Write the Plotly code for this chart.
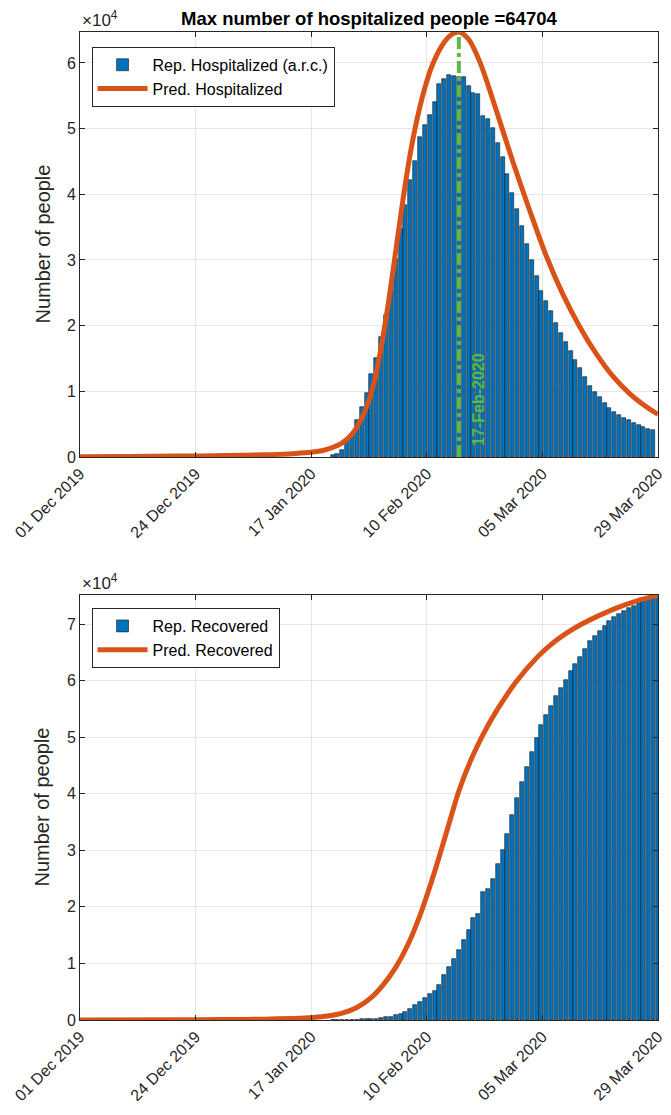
import plotly.graph_objects as go
import pandas as pd

# ---------------- data ----------------
axis_start = "2019-12-01"
axis_end = "2020-03-29"

hosp_dates = pd.date_range("2020-01-22", "2020-03-28", freq="D")
rep_hospitalized = [
    250, 400, 1000, 2800, 3540, 5700, 7600, 9770, 12650, 15030,
    18320, 21600, 25500, 30200, 34700, 38350, 42150, 45000, 48680, 50600,
    52050, 54100, 56770, 57580, 58190, 57940, 57900, 57900, 56520, 55350,
    55300, 51870, 51510, 50090, 47820, 45690, 43160, 40130, 37700, 35170,
    32490, 30010, 27530, 25300, 23780, 22160, 20340, 18920, 17560, 16090,
    14830, 13560, 12140, 10830, 9970, 9110, 8250, 7490, 6930, 6330,
    5970, 5620, 5210, 4860, 4550, 4300, 4050,
]

rec_dates = pd.date_range("2020-01-22", "2020-03-29", freq="D")
rep_recovered = [
    28, 30, 36, 39, 49, 58, 101, 120, 135, 214,
    275, 463, 614, 843, 1115, 1476, 1998, 2595, 3218, 3917,
    4635, 5079, 6213, 7973, 9294, 10748, 12455, 14199, 15952, 18002,
    18704, 22699, 23170, 24990, 27650, 30053, 32898, 36291, 39279, 42118,
    44810, 47404, 49955, 52240, 53888, 55478, 57320, 58735, 60106, 61644,
    62901, 64196, 65660, 67017, 67910, 68798, 69755, 70535, 71266, 71857,
    72362, 72814, 73280, 73773, 74150, 74470, 74750, 75100,
]

# predicted curves (days after 01 Dec 2019)
pred_hosp_days = [0, 10, 20, 30, 38, 43, 47, 50, 52, 54, 56, 57.5, 59, 60.5, 62,
                  63.5, 65, 66.5, 68, 69.5, 71, 72.5, 74.5, 76.3, 78, 80, 82.3,
                  85.7, 89.1, 92.6, 96, 99.4, 102.9, 106.3, 109.7, 113.1, 116.6, 119]
pred_hospitalized = [60, 90, 140, 220, 340, 480, 680, 1000, 1450, 2150, 3500, 5200,
                     7600, 11200, 16700, 23500, 31300, 39200, 46200, 51800, 56200,
                     59600, 62600, 64200, 64704, 63600, 60200, 52800, 45000, 37500,
                     30600, 24800, 19800, 15700, 12300, 9700, 7650, 6500]

pred_rec_days = [0, 20, 30, 38, 44, 48, 51, 54, 57, 60, 62.5, 65, 67.5, 70, 72,
                 74, 76, 78, 80.5, 83, 86, 89.8, 94.2, 96.7, 100, 103.5, 110, 115, 119]
pred_recovered = [20, 40, 80, 150, 280, 450, 700, 1200, 2200, 4000, 6300, 9300, 13300,
                  18500, 23500, 29000, 34800, 40500, 46000, 50500, 55000, 59800,
                  64200, 66200, 68300, 70100, 72700, 74200, 75100]

peak_date = "2020-02-17"
max_hospitalized = 64704
recovered_ymax = 75150

tick_labels = ["01 Dec 2019", "24 Dec 2019", "17 Jan 2020", "10 Feb 2020",
               "05 Mar 2020", "29 Mar 2020"]
ytick_top = [0, 1, 2, 3, 4, 5, 6]
ytick_bot = [0, 1, 2, 3, 4, 5, 6, 7]

# ---------------- styling ----------------
FONT = "Liberation Sans"
AX = "#262626"
BLUE = "#0072BD"
ORANGE = "#D95319"
GREEN = "#5DB946"

t0 = pd.Timestamp(axis_start)
t1 = pd.Timestamp(axis_end)
tick_vals = [t0 + (t1 - t0) * i / 5 for i in range(6)]
to_dates = lambda days: [t0 + pd.Timedelta(days=d) for d in days]
bar_w = 0.8 * 86400000

fig = go.Figure()

fig.add_trace(go.Bar(x=hosp_dates, y=rep_hospitalized, width=bar_w,
                     marker=dict(color=BLUE, line=dict(color="#1a1a1a", width=0.6)),
                     name="Rep. Hospitalized (a.r.c.)", xaxis="x", yaxis="y",
                     legend="legend"))
fig.add_trace(go.Scatter(x=to_dates(pred_hosp_days), y=pred_hospitalized, mode="lines",
                         line=dict(color=ORANGE, width=5, shape="spline", smoothing=0.8),
                         name="Pred. Hospitalized", xaxis="x", yaxis="y", legend="legend"))
fig.add_trace(go.Scatter(x=[peak_date, peak_date], y=[0, max_hospitalized], mode="lines",
                         line=dict(color=GREEN, width=4, dash="dashdot"),
                         showlegend=False, xaxis="x", yaxis="y"))

fig.add_trace(go.Bar(x=rec_dates, y=rep_recovered, width=bar_w,
                     marker=dict(color=BLUE, line=dict(color="#1a1a1a", width=0.6)),
                     name="Rep. Recovered", xaxis="x2", yaxis="y2", legend="legend2"))
fig.add_trace(go.Scatter(x=to_dates(pred_rec_days), y=pred_recovered, mode="lines",
                         line=dict(color=ORANGE, width=5, shape="spline", smoothing=0.8),
                         name="Pred. Recovered", xaxis="x2", yaxis="y2", legend="legend2"))

TOP_DOM = [0.5698, 1.0]
BOT_DOM = [0.0, 0.4302]

def xax(anchor):
    return dict(type="date", range=[t0, t1], anchor=anchor, domain=[0, 1],
                automargin=False,
                tickvals=tick_vals, ticktext=tick_labels, tickangle=-45,
                showline=True, linecolor=AX, linewidth=1, mirror="ticks",
                ticks="inside", ticklen=5, tickcolor=AX, showgrid=True,
                gridcolor="#e6e6e6", zeroline=False,
                tickfont=dict(family=FONT, size=16, color=AX))

def yax(anchor, dom, rng, labels):
    return dict(range=rng, domain=dom, anchor=anchor, automargin=False,
                tickvals=[v * 10000 for v in labels], ticktext=[str(v) for v in labels],
                showline=True, linecolor=AX, linewidth=1, mirror="ticks",
                ticks="inside", ticklen=5, tickcolor=AX, showgrid=True,
                gridcolor="#e6e6e6", zeroline=False,
                tickfont=dict(family=FONT, size=16, color=AX))

legend_common = dict(bgcolor="white", bordercolor=AX, borderwidth=1,
                     font=dict(family=FONT, size=16, color="black"),
                     xanchor="left", yanchor="top", itemwidth=50, tracegroupgap=0)

def ylabel(dom):
    return dict(text="Number of people", x=-0.0657, y=(dom[0] + dom[1]) / 2,
                xref="paper", yref="paper", xanchor="center", yanchor="middle",
                textangle=-90, showarrow=False,
                font=dict(family=FONT, size=20, color=AX))

def expo(dom):
    return dict(text="×10<sup>4</sup>", x=0, y=dom[1], xref="paper", yref="paper",
                xanchor="left", yanchor="bottom", yshift=0, showarrow=False,
                font=dict(family=FONT, size=17, color=AX))

# the page body adds an 8px margin, so the figure is sized/shifted to compensate
fig.update_layout(
    width=663, height=1099,
    margin=dict(l=72, r=13, t=24, b=87),
    paper_bgcolor="white", plot_bgcolor="white",
    xaxis=xax("y"), yaxis=yax("x", TOP_DOM, [0, max_hospitalized], ytick_top),
    xaxis2=xax("y2"), yaxis2=yax("x2", BOT_DOM, [0, recovered_ymax], ytick_bot),
    legend=dict(x=0.02, y=0.985, **legend_common),
    legend2=dict(x=0.02, y=0.417, **legend_common),
    bargap=0, barmode="overlay",
    annotations=[
        dict(text="<b>Max number of hospitalized people =%d</b>" % max_hospitalized,
             x=0.5, y=1, xref="paper", yref="paper", xanchor="center", yanchor="middle",
             yshift=14, showarrow=False, borderpad=0,
             font=dict(family=FONT, size=18.5, color="black")),
        expo(TOP_DOM), expo(BOT_DOM), ylabel(TOP_DOM), ylabel(BOT_DOM),
        dict(text="<b>17-Feb-2020</b>", x=peak_date, y=0, xref="x", yref="y",
             textangle=-90, xanchor="left", yanchor="bottom", xshift=9, yshift=9,
             showarrow=False, font=dict(family=FONT, size=16, color=GREEN)),
    ],
)

fig.write_html("out.html")
